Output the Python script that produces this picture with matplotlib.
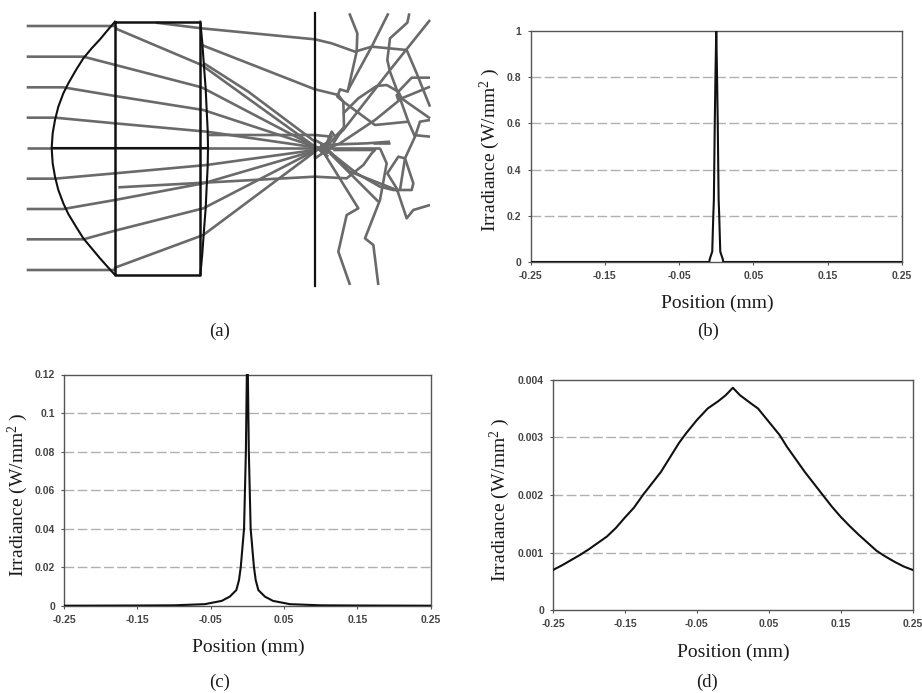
import matplotlib
matplotlib.use('Agg')
import matplotlib.pyplot as plt

W, H = 922, 693

# panel (a) geometry in 3x crop units
ray_paths = [
    [(80, 78), (345, 78), (350, 87), (605, 195), (945, 440), (985, 470)],
    [(80, 170), (250, 170), (605, 262), (945, 440), (985, 460)],
    [(80, 262), (190, 262), (345, 288), (610, 330), (945, 440), (985, 452)],
    [(80, 353), (165, 353), (345, 370), (620, 395), (945, 442), (985, 448)],
    [(80, 444), (1140, 444)],
    [(80, 536), (165, 536), (345, 520), (620, 495), (945, 450), (985, 442)],
    [(80, 627), (190, 627), (345, 600), (610, 550), (945, 452), (985, 432)],
    [(80, 718), (250, 718), (345, 692), (610, 625), (945, 452), (985, 425)],
    [(80, 810), (345, 810), (345, 803), (610, 705), (945, 455), (985, 425)],
    [(612, 190), (745, 275), (945, 425)],
]
stray_paths = [
    [(468, 68), (605, 85), (945, 118), (995, 130), (1065, 155), (1115, 140), (1220, 150), (1250, 220), (1290, 320)],
    [(1048, 40), (1072, 100), (1070, 155), (1043, 275), (1020, 268), (1012, 290), (1030, 305), (1125, 375), (1225, 365), (1245, 410), (1260, 365), (1290, 360)],
    [(1165, 40), (1115, 140), (1043, 272)],
    [(1228, 40), (1222, 68), (1170, 115), (1162, 180), (1170, 215), (1200, 295), (1225, 365)],
    [(1290, 60), (1170, 210), (1030, 390), (960, 455)],
    [(605, 135), (945, 268), (1015, 285), (1030, 305), (1032, 380), (1000, 430)],
    [(1290, 233), (1235, 233), (1195, 275), (1205, 295), (1195, 300), (1190, 285), (1290, 355)],
    [(1030, 340), (1075, 295), (1130, 258), (1160, 255), (1195, 275)],
    [(1290, 260), (1205, 295), (1125, 360), (1020, 430), (960, 455)],
    [(625, 405), (945, 405), (995, 410), (980, 430), (995, 395), (1005, 410), (1030, 385)],
    [(960, 435), (1100, 430), (1170, 425)],
    [(1120, 428), (1170, 428)],
    [(1240, 405), (1290, 410)],
    [(355, 562), (945, 530), (1040, 535), (1090, 495), (1115, 460), (1125, 450), (1000, 450)],
    [(960, 440), (1075, 625), (1040, 645), (1015, 755), (1050, 855)],
    [(1140, 445), (1160, 490), (1140, 600), (1095, 715), (1120, 735), (1135, 855)],
    [(970, 440), (1135, 605)],
    [(975, 445), (1070, 520), (1140, 560), (1180, 570), (1235, 570), (1240, 550), (1215, 475), (1195, 470), (1162, 520), (1190, 565), (1220, 655), (1240, 630), (1290, 615)],
    [(980, 445), (1050, 515), (1190, 570)],
    [(1245, 410), (1215, 475), (1200, 570)],
    [(945, 420), (990, 445), (945, 475), (945, 420)],
]
lens_curve_x = [345, 325, 300, 275, 250, 228, 205, 190, 175, 165, 158, 155,
                158, 165, 175, 190, 205, 228, 250, 275, 300, 325, 345]
lens_curve_y = [65, 88, 118, 145, 175, 210, 250, 280, 320, 360, 400, 444,
                490, 530, 570, 610, 642, 680, 715, 745, 775, 803, 825]
back_curve_x = [601, 607, 612, 617, 620, 623, 624, 623, 620, 617, 612, 607, 601]
back_curve_y = [65, 130, 200, 265, 330, 390, 444, 500, 560, 625, 690, 760, 825]
box_x = [345, 601, 601, 345, 345]
box_y = [65, 65, 825, 825, 65]

# irradiance curves
b_x = [-0.25, -0.0095, -0.0085, -0.0054, -0.004, -0.0032, -0.002, -0.001, 0,
       0.001, 0.002, 0.0032, 0.004, 0.0054, 0.0085, 0.0095, 0.25]
b_y = [0, 0, 0.015, 0.045, 0.2, 0.27, 0.6, 0.82, 1, 0.82, 0.6, 0.27, 0.2, 0.045, 0.015, 0, 0]

c_x = [-0.25, -0.15, -0.1, -0.058, -0.035, -0.024, -0.015, -0.0114, -0.009,
       -0.0045, -0.002, -0.0007, 0.0007, 0.002, 0.0045, 0.009,
       0.0114, 0.015, 0.024, 0.035, 0.058, 0.1, 0.15, 0.25]
c_y = [0, 0.0001, 0.0002, 0.0008, 0.0025, 0.0047, 0.0081, 0.0133, 0.02,
       0.04, 0.08, 0.12, 0.12, 0.08, 0.04, 0.02,
       0.0133, 0.0081, 0.0047, 0.0025, 0.0008, 0.0002, 0.0001, 0]

d_x = [-0.25, -0.2375, -0.225, -0.2125, -0.2, -0.1875, -0.175, -0.1625, -0.15, -0.1375,
       -0.125, -0.1125, -0.1, -0.0875, -0.075, -0.065, -0.05, -0.035,
       -0.02, -0.01, 0, 0.01, 0.025, 0.035, 0.05, 0.065, 0.075, 0.0875, 0.1, 0.1125,
       0.125, 0.1375, 0.15, 0.1625, 0.175, 0.1875, 0.2, 0.2125, 0.225, 0.2375, 0.25]
d_y = [0.0007, 0.00078, 0.00087, 0.00096, 0.00106, 0.00117, 0.00128, 0.00143, 0.00161,
       0.00178, 0.002, 0.0022, 0.0024, 0.00265, 0.0029, 0.00307,
       0.0033, 0.0035, 0.00363, 0.00373, 0.00386, 0.00373, 0.00359, 0.0035, 0.00327,
       0.00304, 0.00284, 0.00262, 0.0024, 0.0022,
       0.002, 0.0018, 0.00162, 0.00146, 0.00131, 0.00117, 0.00103, 0.00093, 0.00084, 0.00076, 0.0007]

x_ticks = [-0.25, -0.15, -0.05, 0.05, 0.15, 0.25]
x_labels = ['-0.25', '-0.15', '-0.05', '0.05', '0.15', '0.25']
b_ticks = [0, 0.2, 0.4, 0.6, 0.8, 1]
b_labels = ['0', '0.2', '0.4', '0.6', '0.8', '1']
c_ticks = [0, 0.02, 0.04, 0.06, 0.08, 0.1, 0.12]
c_labels = ['0', '0.02', '0.04', '0.06', '0.08', '0.1', '0.12']
d_ticks = [0, 0.001, 0.002, 0.003, 0.004]
d_labels = ['0', '0.001', '0.002', '0.003', '0.004']

plt.rcParams['font.family'] = ['Liberation Sans', 'DejaVu Sans']
plt.rcParams['mathtext.default'] = 'regular'
plt.rcParams['mathtext.fontset'] = 'custom'
plt.rcParams['mathtext.rm'] = 'Liberation Serif'

fig = plt.figure(figsize=(W / 100, H / 100), dpi=100)


def px_axes(left, top, right, bottom):
    return fig.add_axes([left / W, 1 - bottom / H, (right - left) / W, (bottom - top) / H])


def px_text(x, y, s, size=14, rotation=0):
    fig.text(x / W, 1 - y / H, s, ha='center', va='center', rotation=rotation,
             fontsize=size, family='Liberation Serif', color='#1a1a1a')


def irradiance(box, xs, ys, ticks, labels):
    ax = px_axes(*box)
    ax.plot(xs, ys, color='#111111', lw=1.5, solid_joinstyle='round', zorder=3)
    ax.set_xlim(-0.25, 0.25)
    ax.set_ylim(ticks[0], ticks[-1])
    ax.set_xticks(x_ticks, x_labels)
    ax.set_yticks(ticks, labels)
    ax.tick_params(length=2.5, width=0.8, color='#555555', labelsize=7.5, labelcolor='#444444', pad=4)
    for t in ax.get_xticklabels() + ax.get_yticklabels():
        t.set_fontweight('bold')
    for s in ax.spines.values():
        s.set_color('#555555')
        s.set_linewidth(1.0)
    for t in ticks[1:-1]:
        ax.axhline(t, color='#b0b0b0', lw=1.0, dashes=(7, 2.5), zorder=1)
    return ax


# panel (a), drawn in the 3x crop units
ax_a = px_axes(0, 0, 450, 300)
ax_a.set_xlim(0, 1350)
ax_a.set_ylim(900, 0)
ax_a.axis('off')
for path in ray_paths + stray_paths:
    ax_a.plot([p[0] for p in path], [p[1] for p in path], color='#6a6a6a', lw=1.9,
              solid_joinstyle='round', solid_capstyle='butt', zorder=1)
ax_a.plot(box_x, box_y, color='#111111', lw=1.8, zorder=2)
ax_a.plot(lens_curve_x, lens_curve_y, color='#111111', lw=1.5, zorder=2)
ax_a.plot(back_curve_x, back_curve_y, color='#111111', lw=1.5, zorder=2)
ax_a.plot([155, 624], [444, 444], color='#111111', lw=1.5, zorder=2)
ax_a.plot([945, 945], [40, 858], color='#111111', lw=1.6, zorder=2)

irradiance((530.5, 31, 902, 262), b_x, b_y, b_ticks, b_labels)
irradiance((64, 374.5, 430.7, 605.7), c_x, c_y, c_ticks, c_labels)
irradiance((553, 379.7, 912.7, 610.3), d_x, d_y, d_ticks, d_labels)

ylab = 'Irradiance (W/mm$^{2}$ )'
px_text(490, 150, ylab, rotation=90)
px_text(18, 495, ylab, rotation=90)
px_text(500, 500, ylab, rotation=90)
px_text(717, 303, 'Position (mm)')
px_text(248, 647, 'Position (mm)')
px_text(733, 652, 'Position (mm)')
px_text(220, 331, '(a)', size=13.5)
px_text(708, 331, '(b)', size=13.5)
px_text(220, 682, '(c)', size=13.5)
px_text(707, 682, '(d)', size=13.5)

fig.savefig('out.png', dpi=100)
